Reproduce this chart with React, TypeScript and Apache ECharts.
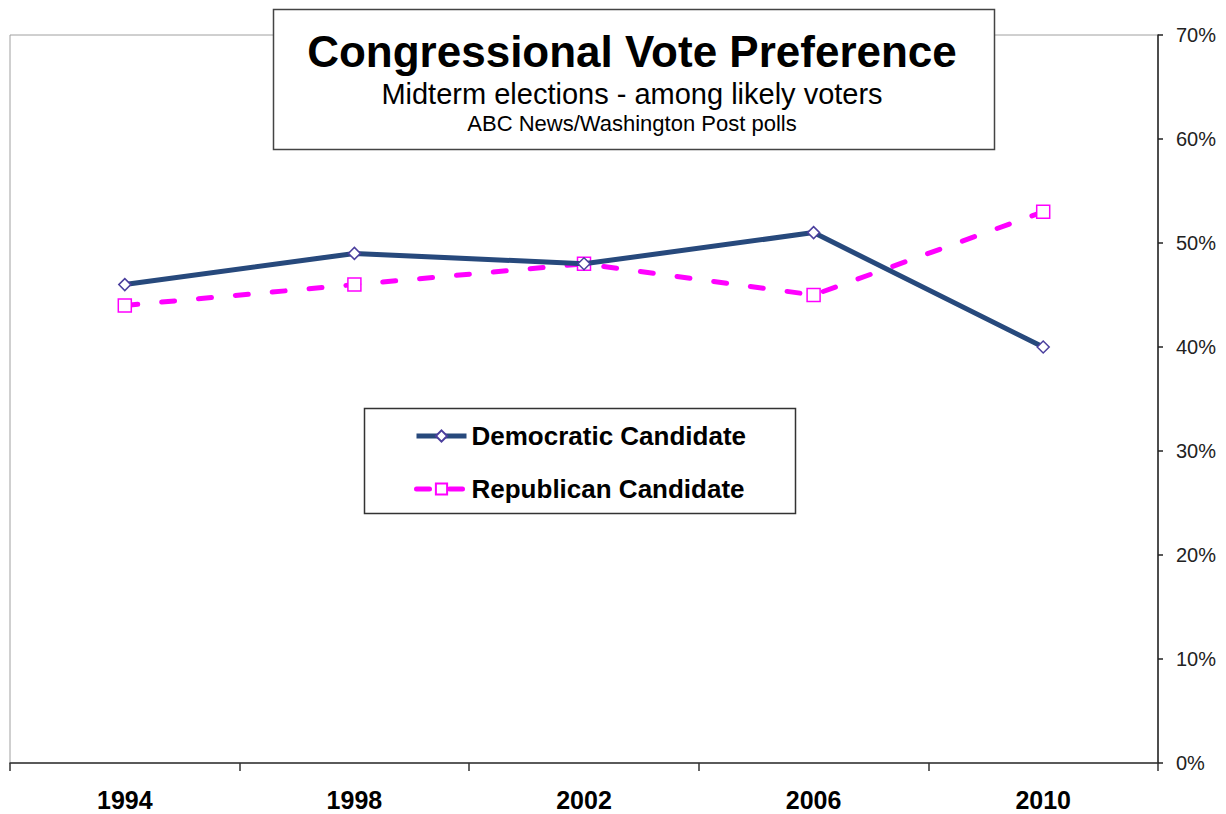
import React, { useEffect, useRef } from "react";
import * as echarts from "echarts";

const years = ["1994", "1998", "2002", "2006", "2010"];
const democratic = [46, 49, 48, 51, 40];
const republican = [44, 46, 48, 45, 53];
const yTicks = { min: 0, max: 70, interval: 10 };

export default function App() {
  const ref = useRef<HTMLDivElement>(null);
  useEffect(() => {
    const chart = echarts.init(ref.current!, null, { renderer: "svg" });
    const font = "'Liberation Sans', Arial, sans-serif";
    const demColor = "#27497C";
    const repColor = "#FF00FF";
    chart.setOption({
      animation: false,
      backgroundColor: "#ffffff",
      textStyle: { fontFamily: font },
      grid: {
        left: 10,
        right: 68,
        top: 35,
        bottom: 51,
        show: true,
        borderColor: "#a0a0a0",
        borderWidth: 1,
      },
      xAxis: {
        type: "category",
        data: years,
        boundaryGap: true,
        axisLine: { lineStyle: { color: "#333", width: 1.5 } },
        axisTick: { show: true, length: 8, lineStyle: { color: "#333", width: 1.5 } },
        axisLabel: {
          fontSize: 25,
          lineHeight: 24,
          fontWeight: "bold",
          color: "#000",
          margin: 25,
          fontFamily: font,
        },
        splitLine: { show: false },
      },
      yAxis: {
        type: "value",
        position: "right",
        min: yTicks.min,
        max: yTicks.max,
        interval: yTicks.interval,
        axisLine: { show: true, lineStyle: { color: "#222", width: 1.5 } },
        axisTick: { show: true, length: 5, lineStyle: { color: "#222", width: 1.5 } },
        axisLabel: { fontSize: 20, color: "#222", margin: 18, formatter: "{value}%", fontFamily: font },
        splitLine: { show: false },
      },
      legend: {
        orient: "vertical",
        left: 414,
        top: 423,
        padding: 0,
        itemWidth: 50,
        itemHeight: 14,
        itemGap: 27,
        textStyle: { fontSize: 26, fontWeight: "bold", color: "#000", fontFamily: font },
        data: [
          { name: "Democratic Candidate", lineStyle: { width: 5, color: demColor, type: "solid" } },
          { name: "Republican Candidate", lineStyle: { width: 5, color: repColor, type: [13, 20], cap: "round" } },
        ],
      },
      series: [
        {
          name: "Democratic Candidate",
          type: "line",
          data: democratic,
          symbol: "diamond",
          symbolSize: 12,
          lineStyle: { color: demColor, width: 5 },
          itemStyle: { color: "#ffffff", borderColor: "#4B3F9E", borderWidth: 1.5 },
          z: 3,
        },
        {
          name: "Republican Candidate",
          type: "line",
          data: republican,
          symbol: "rect",
          symbolSize: 13,
          lineStyle: { color: repColor, width: 5, type: [13, 24], cap: "round" },
          itemStyle: { color: "#ffffff", borderColor: repColor, borderWidth: 1.5 },
          z: 2,
        },
      ],
      graphic: [
        {
          type: "rect",
          shape: { x: 273.5, y: 9.5, width: 721, height: 140 },
          style: { fill: "#fff", stroke: "#444", lineWidth: 1.5 },
          z: 10,
        },
        {
          type: "text",
          x: 632,
          y: 51,
          style: {
            text: "Congressional Vote Preference",
            font: `bold 44px ${font}`,
            fill: "#000",
            align: "center",
            verticalAlign: "middle",
          },
          z: 11,
        },
        {
          type: "text",
          x: 632,
          y: 94,
          style: {
            text: "Midterm elections - among likely voters",
            font: `29px ${font}`,
            fill: "#000",
            align: "center",
            verticalAlign: "middle",
          },
          z: 11,
        },
        {
          type: "text",
          x: 632,
          y: 123,
          style: {
            text: "ABC News/Washington Post polls",
            font: `22px ${font}`,
            fill: "#000",
            align: "center",
            verticalAlign: "middle",
          },
          z: 11,
        },
        {
          type: "rect",
          shape: { x: 364.5, y: 408.5, width: 431, height: 105 },
          style: { fill: "transparent", stroke: "#333", lineWidth: 1.5 },
          z: 10,
        },
      ],
    });
    return () => chart.dispose();
  }, []);
  return <div ref={ref} style={{ width: 1226, height: 814, position: "absolute", left: 0, top: 0 }} />;
}
